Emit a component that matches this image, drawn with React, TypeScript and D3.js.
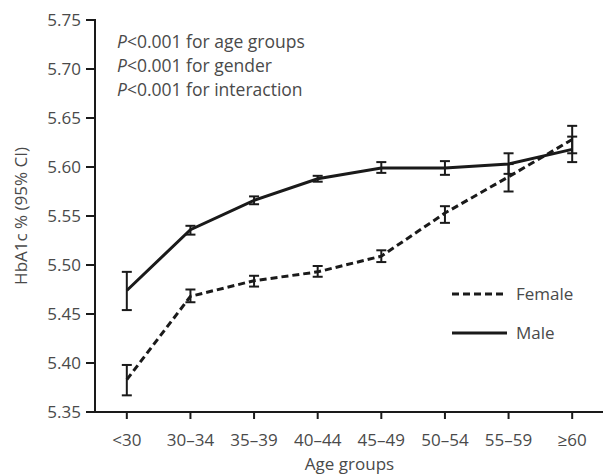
import React from "react";
import * as d3 from "d3";

const categories = ["<30", "30–34", "35–39", "40–44", "45–49", "50–54", "55–59", "≥60"];
const maleMean = [5.474, 5.536, 5.566, 5.588, 5.599, 5.599, 5.603, 5.618];
const maleLow = [5.454, 5.531, 5.562, 5.585, 5.594, 5.592, 5.593, 5.605];
const maleHigh = [5.493, 5.540, 5.570, 5.591, 5.605, 5.606, 5.614, 5.631];
const femaleMean = [5.383, 5.468, 5.484, 5.493, 5.509, 5.553, 5.590, 5.628];
const femaleLow = [5.367, 5.462, 5.478, 5.488, 5.503, 5.543, 5.575, 5.614];
const femaleHigh = [5.398, 5.475, 5.489, 5.499, 5.515, 5.560, 5.603, 5.642];
const yTicks = [5.35, 5.4, 5.45, 5.5, 5.55, 5.6, 5.65, 5.7, 5.75];
const annotations = ["for age groups", "for gender", "for interaction"];

const W = 603;
const H = 476;
const left = 95;
const top = 20;
const bottom = 412;
const right = 604;
const FONT = "'Open Sans', 'Noto Sans', sans-serif";
const TEXT = "#4a4a4a";
const INK = "#1a1a1a";

export default function App() {
  const x = d3.scaleBand<string>().domain(categories).range([left, right]).paddingInner(0).paddingOuter(0);
  const y = d3.scaleLinear().domain([5.35, 5.75]).range([bottom, top]);
  const cx = (c: string) => (x(c) as number) + x.bandwidth() / 2;
  const line = d3
    .line<number>()
    .x((_, i) => cx(categories[i]))
    .y((d) => y(d));

  const series = [
    { name: "Female", mean: femaleMean, low: femaleLow, high: femaleHigh, dash: "7,4" },
    { name: "Male", mean: maleMean, low: maleLow, high: maleHigh, dash: "" },
  ];

  return (
    <svg width={W} height={H} style={{ position: "absolute", left: 0, top: 0, background: "#fff" }}>
      {/* axes */}
      <line x1={left} x2={left} y1={top - 1} y2={bottom + 1} stroke={INK} strokeWidth={2} />
      <line x1={left - 1} x2={right} y1={bottom} y2={bottom} stroke={INK} strokeWidth={2} />
      {yTicks.map((t) => (
        <g key={t}>
          <line x1={left - 9} x2={left} y1={y(t)} y2={y(t)} stroke={INK} strokeWidth={2} />
          <text x={left - 14} y={y(t)} dy="0.36em" textAnchor="end" fontFamily={FONT} fontSize={17} fill={TEXT}>
            {t.toFixed(2)}
          </text>
        </g>
      ))}
      {categories.map((c) => (
        <g key={c}>
          <line x1={cx(c)} x2={cx(c)} y1={bottom} y2={bottom + 7} stroke={INK} strokeWidth={2} />
          <text x={cx(c)} y={bottom + 34} textAnchor="middle" fontFamily={FONT} fontSize={17} fill={TEXT}>
            {c}
          </text>
        </g>
      ))}
      <text x={(left + right) / 2} y={470} textAnchor="middle" fontFamily={FONT} fontSize={17} fill={TEXT}>
        Age groups
      </text>
      <text
        transform={`translate(27, ${(top + bottom) / 2}) rotate(-90)`}
        textAnchor="middle"
        fontFamily={FONT}
        fontSize={17}
        fill={TEXT}
      >
        HbA1c % (95% CI)
      </text>

      {/* annotations */}
      {annotations.map((a, i) => (
        <text key={a} x={117} y={48 + i * 24.2} fontFamily={FONT} fontSize={17.5} fill={TEXT}>
          <tspan fontStyle="italic">P</tspan>
          {"<0.001 " + a}
        </text>
      ))}

      {/* series */}
      {series.map((s) => (
        <g key={s.name}>
          <path d={line(s.mean) || ""} fill="none" stroke={INK} strokeWidth={3} strokeDasharray={s.dash} />
          {categories.map((c, i) => (
            <g key={c} stroke={INK} strokeWidth={2}>
              <line x1={cx(c)} x2={cx(c)} y1={y(s.low[i])} y2={y(s.high[i])} />
              <line x1={cx(c) - 5} x2={cx(c) + 5} y1={y(s.low[i])} y2={y(s.low[i])} />
              <line x1={cx(c) - 5} x2={cx(c) + 5} y1={y(s.high[i])} y2={y(s.high[i])} />
            </g>
          ))}
        </g>
      ))}

      {/* legend */}
      {series.map((s, i) => (
        <g key={s.name}>
          <line x1={452} x2={507} y1={294 + i * 39} y2={294 + i * 39} stroke={INK} strokeWidth={3} strokeDasharray={s.dash} />
          <text x={516} y={294 + i * 39} dy="0.36em" fontFamily={FONT} fontSize={17} fill={TEXT}>
            {s.name}
          </text>
        </g>
      ))}
    </svg>
  );
}
